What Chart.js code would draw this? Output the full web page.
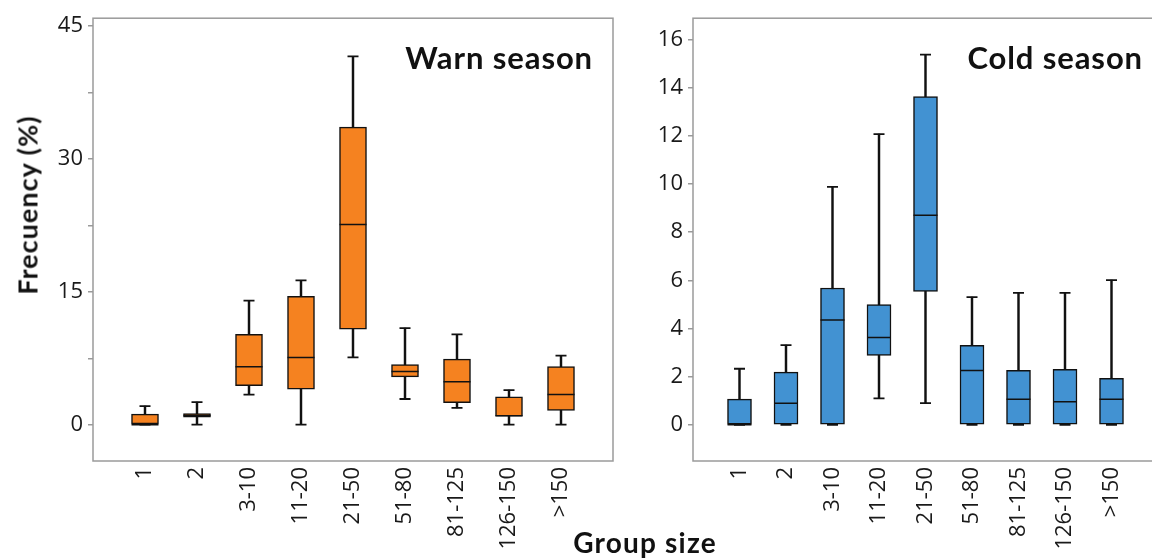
<!DOCTYPE html>
<html>
<head>
<meta charset="utf-8">
<script src="https://cdn.jsdelivr.net/npm/chart.js@4.4.1/dist/chart.umd.min.js"></script>
<style>
    html, body { margin: 0; padding: 0; background: #fff; }
    body { width: 1152px; height: 560px; overflow: hidden; position: relative; font-family: Lato, "Open Sans", sans-serif; }
    canvas { position: absolute; top: 0; }
    #warmChart { left: 0; }
    #coldChart { left: 600px; }
    .txt { position: absolute; font-weight: bold; color: #111; white-space: nowrap; line-height: 1; }
    .center { transform: translate(-50%, -50%); }
</style>
</head>
<body>
<canvas id="warmChart" width="640" height="560"></canvas>
<canvas id="coldChart" width="600" height="560"></canvas>
<div class="txt" id="warmTitle" style="right:559px; top:42px; font-size:31px; letter-spacing:0.9px;">Warn season</div>
<div class="txt" id="coldTitle" style="right:9px; top:42px; font-size:31px; letter-spacing:0.9px;">Cold season</div>
<div class="txt" style="left:27px; top:205px; font-size:27px; letter-spacing:1px; transform: translate(-50%, -50%) rotate(-90deg);">Frecuency (%)</div>
<div class="txt center" style="left:645px; top:542px; font-size:28px; letter-spacing:1.2px;">Group size</div>
<script>
// categories (x axis)
const groupSizes = ["1", "2", "3-10", "11-20", "21-50", "51-80", "81-125", "126-150", ">150"];

// warm season boxes (%)
const warmMin    = [0,    0,    3.4,  0,    7.6,  2.9,  1.9,  0,    0];
const warmQ1     = [0,    0.85, 4.4,  4.0,  10.8, 5.4,  2.5,  0.95, 1.6];
const warmMedian = [0,    1.05, 6.55, 7.6,  22.6, 6.0,  4.85, 1.0,  3.4];
const warmQ3     = [1.2,  1.25, 10.2, 14.5, 33.6, 6.8,  7.4,  3.15, 6.55];
const warmMax    = [2.1,  2.55, 14.0, 16.3, 41.6, 10.9, 10.2, 3.9,  7.8];

// cold season boxes (%)
const coldMin    = [0,    0,    0,    1.1,  0.9,   0,    0,    0,    0];
const coldQ1     = [0,    0,    0,    2.88, 5.54,  0,    0,    0,    0];
const coldMedian = [0,    0.9,  4.35, 3.63, 8.7,   2.26, 1.06, 0.96, 1.06];
const coldQ3     = [1.07, 2.19, 5.68, 4.99, 13.63, 3.3,  2.26, 2.31, 1.93];
const coldMax    = [2.33, 3.31, 9.88, 12.07, 15.37, 5.3, 5.48, 5.48, 6.01];

// y ticks
const warmTicks = [0, 7.5, 15, 22.5, 30, 37.5, 45];
const warmLabeled = [0, 15, 30, 45];
const coldTicks = [0, 2, 4, 6, 8, 10, 12, 14, 16];

const TICK_FONT = "'Open Sans', Lato, sans-serif";
const GREY = "#9a9a9a";

// frame round the plot area
const framePlugin = {
    id: "frame",
    afterDraw(chart) {
        const { ctx, chartArea: a } = chart;
        ctx.save();
        ctx.strokeStyle = GREY;
        ctx.lineWidth = 1.5;
        ctx.strokeRect(a.left, a.top, a.right - a.left, a.bottom - a.top);
        ctx.restore();
    }
};

function makePanel(canvasId, s) {
    const xs = groupSizes.map((g, i) => i + 1);
    const pts = arr => xs.map((x, i) => ({ x: x, y: arr[i] }));

    new Chart(document.getElementById(canvasId), {
        type: "bar",
        data: {
            datasets: [
                {   // medians
                    type: "line", showLine: false, data: pts(s.median),
                    pointStyle: "line", pointRadius: s.boxW / 2,
                    pointBorderColor: "#111", pointBorderWidth: 1.5, order: 0
                },
                {   // whisker caps
                    type: "line", showLine: false, data: pts(s.min).concat(pts(s.max)),
                    pointStyle: "line", pointRadius: 5.5,
                    pointBorderColor: "#111", pointBorderWidth: 1.8, order: 0
                },
                {   // boxes
                    data: xs.map((x, i) => ({ x: x, y: [s.q1[i], s.q3[i]] })),
                    backgroundColor: s.color, borderColor: "#111", borderWidth: 1.5,
                    borderSkipped: false, barThickness: s.boxW, grouped: false, order: 1
                },
                {   // whiskers
                    data: xs.map((x, i) => ({ x: x, y: [s.min[i], s.max[i]] })),
                    backgroundColor: "#111", borderWidth: 0,
                    barThickness: 1.8, grouped: false, order: 2
                }
            ]
        },
        options: {
            responsive: false,
            animation: false,
            events: [],
            layout: { padding: { left: 0, right: s.padRight, top: 13, bottom: 0 } },
            plugins: { legend: { display: false }, tooltip: { enabled: false } },
            scales: {
                x: {
                    type: "linear", min: 0, max: 10, offset: false,
                    afterBuildTicks: sc => { sc.ticks = xs.map(v => ({ value: v })); },
                    afterFit: sc => { sc.height = 99; },
                    grid: { display: false, drawTicks: false },
                    border: { display: false },
                    ticks: {
                        autoSkip: false, minRotation: 90, maxRotation: 90, padding: 6,
                        color: "#1a1a1a", font: { family: TICK_FONT, size: 22 },
                        callback: v => groupSizes[v - 1]
                    }
                },
                y: {
                    min: s.yMin, max: s.yMax,
                    afterBuildTicks: sc => { sc.ticks = s.ticks.map(v => ({ value: v })); },
                    afterFit: sc => { sc.width = 93; },
                    grid: { drawOnChartArea: false, drawTicks: true, tickLength: 5, color: GREY, lineWidth: 1.5 },
                    border: { display: false },
                    ticks: {
                        padding: 5, color: "#1a1a1a", font: { family: TICK_FONT, size: 22 },
                        callback: v => s.labeled.includes(v) ? String(v) : ""
                    }
                }
            }
        },
        plugins: [framePlugin]
    });
}

makePanel("warmChart", {
    min: warmMin, q1: warmQ1, median: warmMedian, q3: warmQ3, max: warmMax,
    color: "#f58220", boxW: 27, padRight: 27,
    yMin: -4.1, yMax: 45.9, ticks: warmTicks, labeled: warmLabeled
});

makePanel("coldChart", {
    min: coldMin, q1: coldQ1, median: coldMedian, q3: coldQ3, max: coldMax,
    color: "#4292d2", boxW: 24, padRight: 42,
    yMin: -1.5, yMax: 16.88, ticks: coldTicks, labeled: coldTicks
});
</script>
</body>
</html>
